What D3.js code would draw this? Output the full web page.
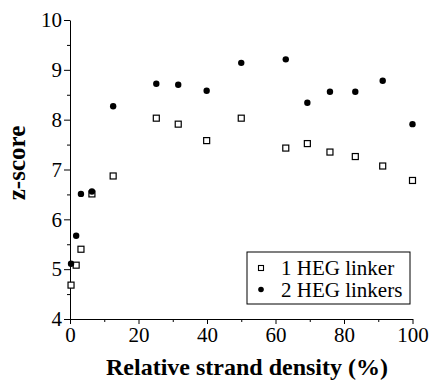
<!DOCTYPE html>
<html>
<head>
<meta charset="utf-8">
<script src="https://cdn.jsdelivr.net/npm/d3@7"></script>
<style>
  body { margin: 0; background: #fff; }
  svg text { font-family: "Liberation Serif", "Times New Roman", serif; fill: #000; }
</style>
</head>
<body>
<div id="chart"></div>
<script>
// data
var density = [0.3, 1.8, 3.2, 6.4, 12.6, 25.2, 31.6, 39.9, 50, 63, 69.3, 75.9, 83.3, 91.3, 100];
var oneHeg = [4.68, 5.08, 5.4, 6.51, 6.87, 8.03, 7.91, 7.58, 8.03, 7.43, 7.52, 7.35, 7.26, 7.07, 6.78];
var twoHeg = [5.11, 5.67, 6.51, 6.56, 8.27, 8.72, 8.7, 8.58, 9.14, 9.21, 8.34, 8.56, 8.56, 8.78, 7.91];
var xTicks = [0, 20, 40, 60, 80, 100];
var yTicks = [4, 5, 6, 7, 8, 9, 10];
var seriesNames = ["1 HEG linker", "2 HEG linkers"];

var W = 429, H = 380;
var margin = { top: 20, right: 16.5, bottom: 61, left: 70 };
var width = W - margin.left - margin.right,
    height = H - margin.top - margin.bottom;

var svg = d3.select("#chart").append("svg")
  .attr("width", W).attr("height", H);

var g = svg.append("g")
  .attr("transform", "translate(" + margin.left + "," + margin.top + ")");

var x = d3.scaleLinear().domain([0, 100]).range([0, width]);
var y = d3.scaleLinear().domain([4, 10]).range([height, 0]);

// minor ticks
g.append("g")
  .attr("transform", "translate(0," + height + ")")
  .call(d3.axisBottom(x).tickValues([10, 30, 50, 70, 90]).tickSize(3).tickFormat(""))
  .call(function (s) { s.select(".domain").remove(); });
g.append("g")
  .call(d3.axisLeft(y).tickValues([4.5, 5.5, 6.5, 7.5, 8.5, 9.5]).tickSize(3).tickFormat(""))
  .call(function (s) { s.select(".domain").remove(); });

// major axes
g.append("g")
  .attr("class", "ax")
  .attr("transform", "translate(0," + height + ")")
  .call(d3.axisBottom(x).tickValues(xTicks).tickSize(5).tickSizeOuter(0)
    .tickPadding(3).tickFormat(d3.format("d")));
g.append("g")
  .attr("class", "ax")
  .call(d3.axisLeft(y).tickValues(yTicks).tickSize(6).tickSizeOuter(0)
    .tickPadding(2).tickFormat(d3.format("d")));

g.selectAll(".ax")
  .attr("font-size", 21)
  .attr("font-family", "'Liberation Serif', 'Times New Roman', serif");
g.selectAll(".domain, .tick line").attr("stroke", "#000").attr("stroke-width", 1);

// axis titles
svg.append("text")
  .attr("x", 247).attr("y", 375)
  .attr("text-anchor", "middle")
  .style("font-size", "24px").style("font-weight", "bold")
  .text("Relative strand density (%)");
svg.append("text")
  .attr("transform", "translate(25,163) rotate(-90)")
  .attr("text-anchor", "middle")
  .style("font-size", "25px").style("font-weight", "bold")
  .text("z-score");

// points
var sq = 6;
g.selectAll(".sq").data(density).enter().append("rect")
  .attr("class", "sq")
  .attr("x", function (d) { return x(d) - sq / 2; })
  .attr("y", function (d, i) { return y(oneHeg[i]) - sq / 2; })
  .attr("width", sq).attr("height", sq)
  .attr("fill", "#fff").attr("stroke", "#000").attr("stroke-width", 1.2);

g.selectAll(".dot").data(density).enter().append("circle")
  .attr("class", "dot")
  .attr("cx", function (d) { return x(d); })
  .attr("cy", function (d, i) { return y(twoHeg[i]); })
  .attr("r", 3.2)
  .attr("fill", "#000");

// legend
var lg = svg.append("g").attr("transform", "translate(247,252)");
lg.append("rect").attr("width", 163).attr("height", 52)
  .attr("fill", "#fff").attr("stroke", "#000").attr("stroke-width", 1);
lg.append("rect").attr("x", 11.5).attr("y", 13.5).attr("width", 5).attr("height", 5)
  .attr("fill", "#fff").attr("stroke", "#000").attr("stroke-width", 1.1);
lg.append("circle").attr("cx", 14).attr("cy", 37.5).attr("r", 2.8).attr("fill", "#000");
lg.selectAll(".lt").data(seriesNames).enter().append("text")
  .attr("class", "lt")
  .attr("x", 34)
  .attr("y", function (d, i) { return 22.5 + i * 22; })
  .style("font-size", "21px")
  .text(function (d) { return d; });
</script>
</body>
</html>
